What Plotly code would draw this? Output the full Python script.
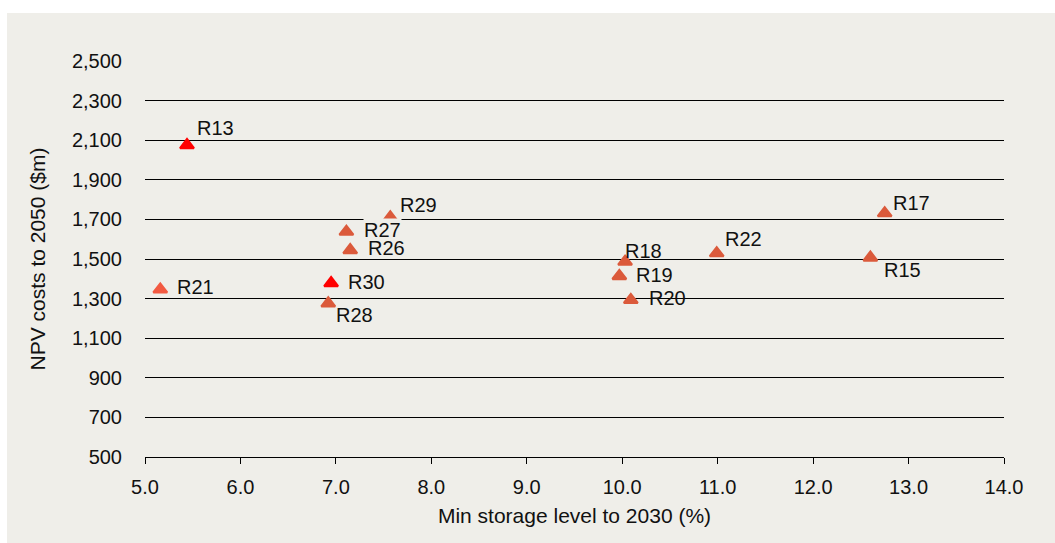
import plotly.graph_objects as go

# Option results: minimum storage level vs NPV cost
labels = ["R13", "R21", "R30", "R28", "R27", "R26", "R29",
          "R18", "R19", "R20", "R22", "R15", "R17"]
min_storage = [5.44, 5.16, 6.95, 6.92, 7.11, 7.15, 7.57,
               10.03, 9.97, 10.09, 10.99, 12.60, 12.75]
npv_cost = [2075, 1346, 1378, 1276, 1638, 1545, 1710,
            1486, 1414, 1293, 1529, 1507, 1731]
point_colors = ["#FF0000", "#F25A42", "#FF0000", "#DB5A3B", "#DB5A3B", "#DB5A3B", "#DB5A3B",
                "#DB5A3B", "#DB5A3B", "#DB5A3B", "#DB5A3B", "#DB5A3B", "#DB5A3B"]

# label offsets in pixels (right, down) from each point
label_dx = [11, 18, 18, 9, 19, 19, 11, 1, 18, 19, 9, 15, 9]
label_dy = [-17, -2, -1, 12, -2, -2, -12, -11, -1, -2, -14, 12, -10]

x_ticks = [5, 6, 7, 8, 9, 10, 11, 12, 13, 14]
y_ticks = [500, 700, 900, 1100, 1300, 1500, 1700, 1900, 2100, 2300, 2500]

PANEL = "#EFEEE9"
FONT = "Liberation Sans, Arial, sans-serif"
W, H = 1055, 543
ML, MR, MT, MB = 145, 51, 61, 86
pw, ph = W - ML - MR, H - MT - MB

fig = go.Figure()
fig.add_trace(go.Scatter(
    x=min_storage, y=npv_cost, mode="markers",
    marker=dict(symbol="triangle-up", size=12, color=point_colors,
                line=dict(color=point_colors, width=2.2)),
    hoverinfo="text", text=labels, showlegend=False, cliponaxis=False,
))

for lab, xv, yv, dx, dy in zip(labels, min_storage, npv_cost, label_dx, label_dy):
    fig.add_annotation(
        x=xv, y=yv, text=lab, showarrow=False, xanchor="left", yanchor="middle",
        xshift=dx - 2, yshift=-dy, font=dict(family=FONT, size=20, color="#111111"),
        bgcolor=PANEL if lab == "R27" else "rgba(0,0,0,0)", borderpad=0,
    )

# grey panel behind the chart, leaving a thin white strip at top and left
fig.add_shape(
    type="rect", xref="paper", yref="paper", layer="below",
    x0=(7 - ML) / pw, x1=(W + 5 - ML) / pw,
    y0=-(H + 5 - MT - ph) / ph, y1=(H - MB - 13) / ph,
    line=dict(width=0), fillcolor=PANEL,
)

fig.update_layout(
    width=W, height=H,
    margin=dict(l=ML, r=MR, t=MT, b=MB),
    paper_bgcolor="white", plot_bgcolor=PANEL,
    font=dict(family=FONT, size=20, color="#111111"),
    xaxis=dict(
        range=[5, 14], tickvals=x_ticks, tickformat=".1f",
        showgrid=False, zeroline=False,
        showline=True, linecolor="black", linewidth=1,
        ticks="outside", ticklen=6, tickcolor="black", tickwidth=1,
        ticklabelstandoff=6,
        title=dict(text="Min storage level to 2030 (%)", standoff=11,
                   font=dict(family=FONT, size=21, color="#111111")),
    ),
    yaxis=dict(
        range=[500, 2500], tickvals=y_ticks, tickformat=",d",
        showgrid=True, gridcolor="black", gridwidth=1, zeroline=False,
        showline=False, ticks="", ticklabelstandoff=22,
        title=dict(text="NPV costs to 2050 ($m)", standoff=20,
                   font=dict(family=FONT, size=21, color="#111111")),
    ),
)

fig.write_html("out.html")
